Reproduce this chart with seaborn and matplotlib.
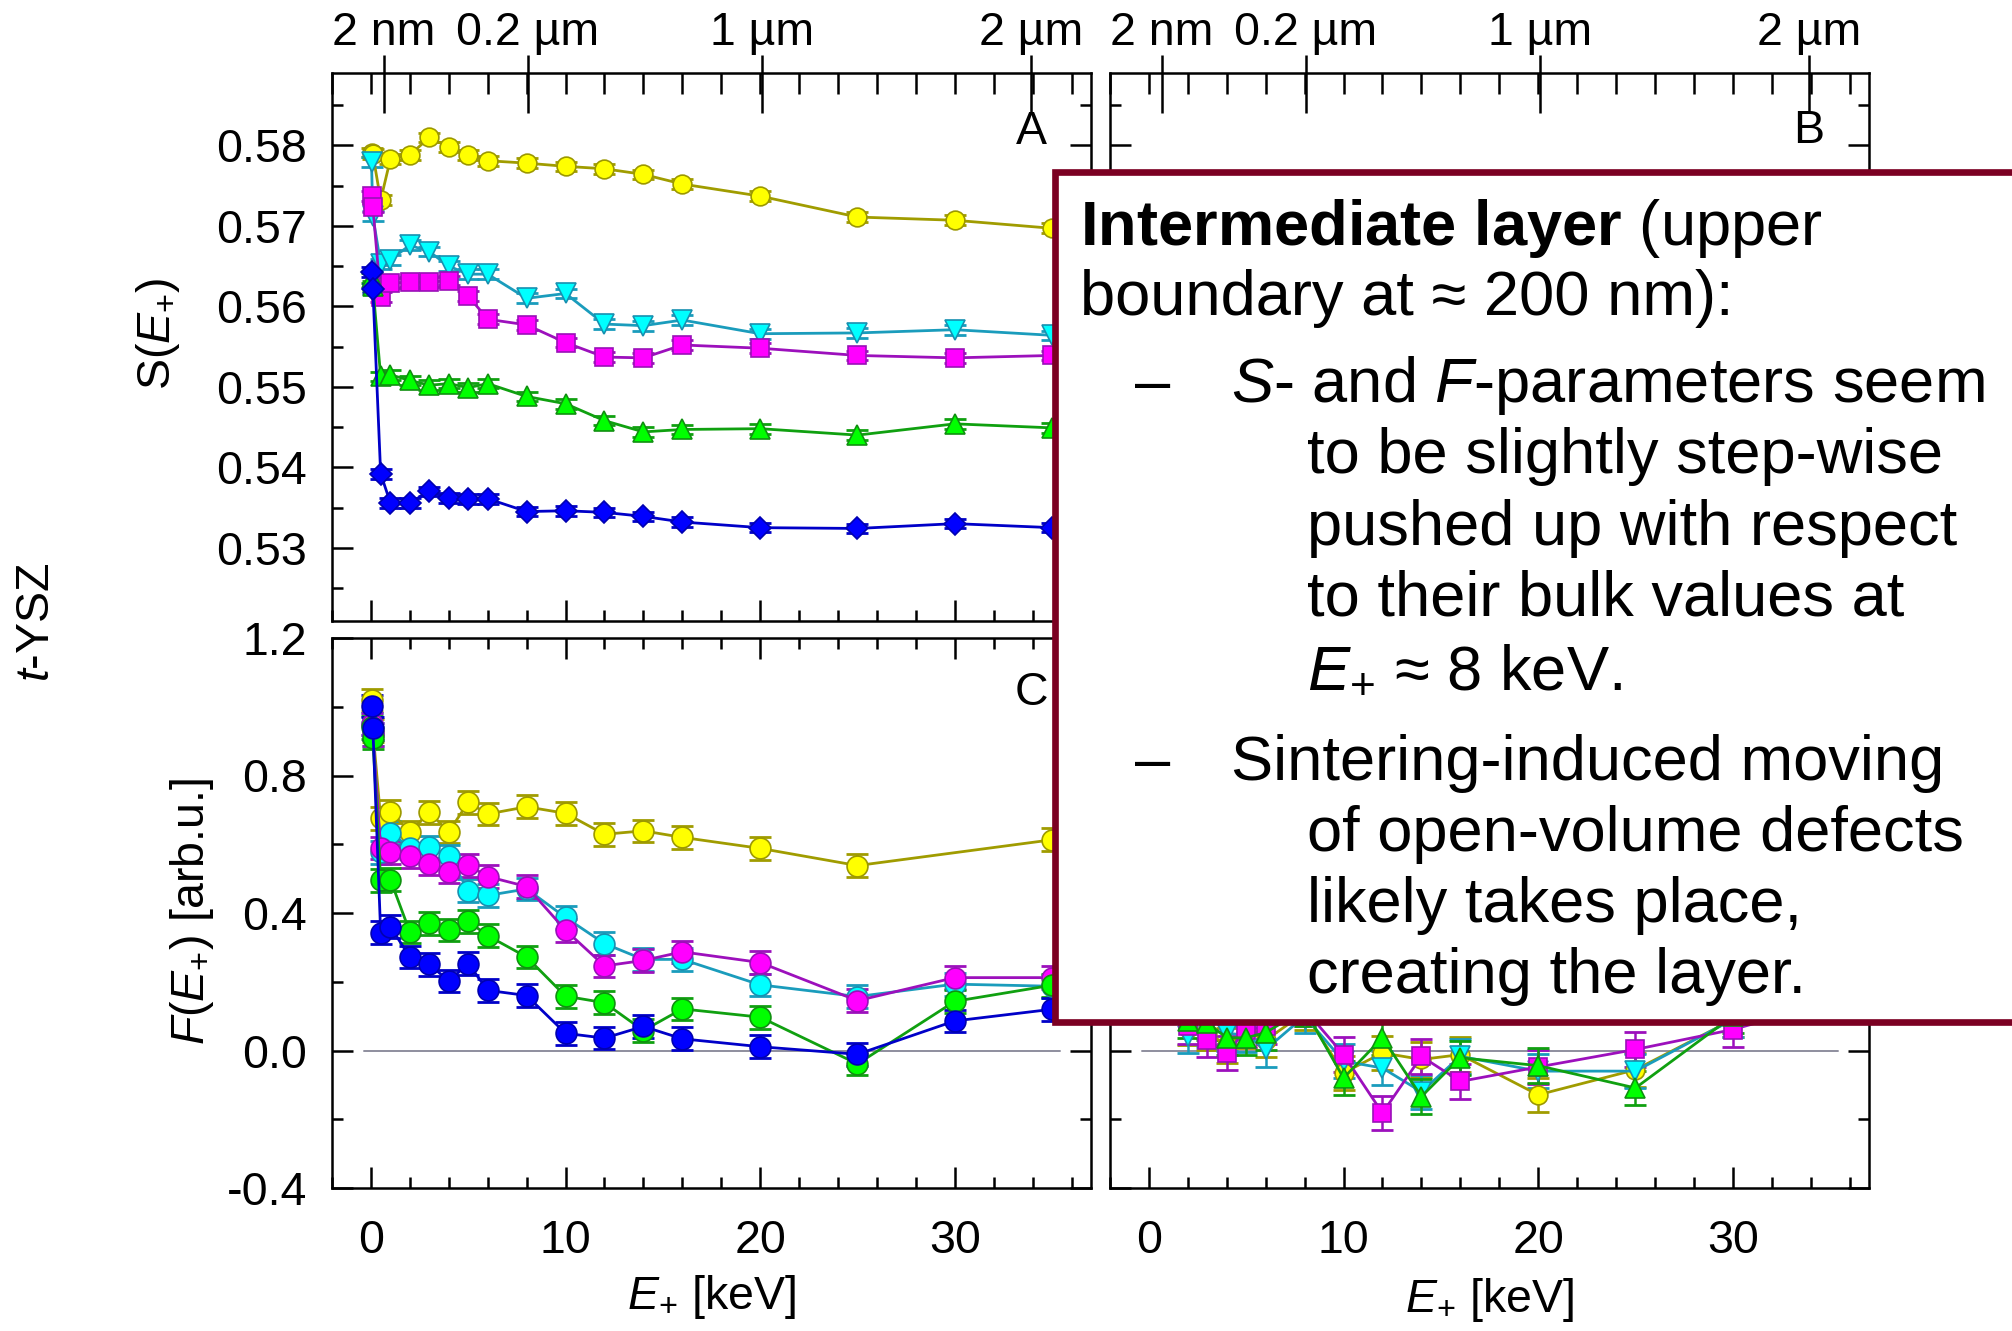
import numpy as np
import pandas as pd
import matplotlib
matplotlib.use("Agg")
import matplotlib.pyplot as plt
import seaborn as sns
from matplotlib.ticker import MultipleLocator, FixedLocator, FixedFormatter, FormatStrFormatter
from matplotlib.patches import Rectangle

# ------------------------------------------------------------------ data
E_KEV = [0.03, 0.1, 0.5, 1, 2, 3, 4, 5, 6, 8, 10, 12, 14, 16, 20, 25, 30, 35]

# panel A : S-parameter, left sample (5 series)
S_A_YELLOW = [0.5791, 0.5789, 0.5732, 0.5783, 0.5788, 0.5810, 0.5798, 0.5788, 0.5781,
              0.5778, 0.5774, 0.5771, 0.5764, 0.5752, 0.5737, 0.5711, 0.5707, 0.5697]
S_A_CYAN = [0.5779, 0.5712, 0.5653, 0.5658, 0.5676, 0.5668, 0.5650, 0.5640, 0.5640,
            0.5610, 0.5616, 0.5578, 0.5576, 0.5583, 0.5566, 0.5567, 0.5571, 0.5564]
S_A_MAGENTA = [0.5737, 0.5723, 0.5612, 0.5629, 0.5630, 0.5630, 0.5632, 0.5613, 0.5584,
               0.5577, 0.5555, 0.5537, 0.5536, 0.5552, 0.5548, 0.5539, 0.5536, 0.5539]
S_A_GREEN = [0.5635, 0.5625, 0.5513, 0.5515, 0.5508, 0.5502, 0.5504, 0.5499, 0.5504,
             0.5488, 0.5479, 0.5458, 0.5444, 0.5447, 0.5448, 0.5440, 0.5454, 0.5449]
S_A_BLUE = [0.5643, 0.5622, 0.5392, 0.5356, 0.5356, 0.5370, 0.5362, 0.5361, 0.5361,
            0.5345, 0.5346, 0.5344, 0.5339, 0.5332, 0.5325, 0.5324, 0.5330, 0.5325]

# panel C : F-parameter, left sample
F_C_YELLOW = [1.020, 0.930, 0.675, 0.695, 0.636, 0.693, 0.636, 0.722, 0.688,
              0.709, 0.690, 0.629, 0.639, 0.620, 0.588, 0.538, np.nan, 0.613]
F_C_CYAN = [0.950, 0.920, 0.577, 0.634, 0.590, 0.592, 0.566, 0.465, 0.451,
            0.470, 0.387, 0.311, 0.265, 0.265, 0.191, 0.157, 0.193, 0.187]
F_C_MAGENTA = [0.950, 0.920, 0.589, 0.577, 0.565, 0.544, 0.519, 0.539, 0.506,
               0.477, 0.350, 0.246, 0.262, 0.287, 0.256, 0.145, 0.212, 0.212]
F_C_GREEN = [0.940, 0.909, 0.495, 0.497, 0.345, 0.370, 0.351, 0.376, 0.334,
             0.272, 0.158, 0.139, 0.058, 0.121, 0.097, -0.039, 0.143, 0.190]
F_C_BLUE = [1.002, 0.937, 0.343, 0.360, 0.272, 0.251, 0.202, 0.253, 0.175,
            0.160, 0.050, 0.036, 0.070, 0.034, 0.011, -0.011, 0.086, 0.120]

# panel B : S-parameter, right sample (4 series, covered by the note box)
S_B_YELLOW = [0.5745, 0.5730, 0.5660, 0.5652, 0.5655, 0.5660, 0.5658, 0.5652, 0.5650,
              0.5640, 0.5632, 0.5625, 0.5620, 0.5615, 0.5605, 0.5598, 0.5596, 0.5594]
S_B_CYAN = [0.5740, 0.5722, 0.5640, 0.5636, 0.5640, 0.5642, 0.5638, 0.5633, 0.5630,
            0.5622, 0.5615, 0.5608, 0.5602, 0.5598, 0.5590, 0.5585, 0.5583, 0.5581]
S_B_MAGENTA = [0.5735, 0.5718, 0.5620, 0.5616, 0.5620, 0.5622, 0.5619, 0.5614, 0.5611,
               0.5603, 0.5596, 0.5590, 0.5585, 0.5580, 0.5572, 0.5568, 0.5566, 0.5565]
S_B_GREEN = [0.5730, 0.5710, 0.5600, 0.5596, 0.5599, 0.5601, 0.5598, 0.5593, 0.5590,
             0.5582, 0.5575, 0.5570, 0.5565, 0.5561, 0.5554, 0.5550, 0.5549, 0.5548]

# panel D : F-parameter, right sample
F_D_YELLOW = [1.000, 0.930, 0.480, 0.260, 0.066, 0.052, 0.015, 0.057, 0.030,
              0.110, -0.065, -0.007, -0.026, -0.012, -0.129, -0.056, 0.090, 0.150]
F_D_CYAN = [0.980, 0.920, 0.470, 0.250, 0.042, 0.060, 0.050, 0.045, 0.003,
            0.100, -0.031, -0.051, -0.120, -0.017, -0.060, -0.060, 0.090, 0.140]
F_D_MAGENTA = [0.990, 0.910, 0.460, 0.240, 0.070, 0.032, -0.007, 0.060, 0.070,
               0.120, -0.012, -0.182, -0.017, -0.090, -0.048, 0.003, 0.061, 0.140]
F_D_GREEN = [0.970, 0.900, 0.450, 0.230, 0.085, 0.080, 0.037, 0.037, 0.052,
             0.120, -0.080, 0.037, -0.134, -0.021, -0.044, -0.109, 0.100, 0.130]

S_ERR = 0.0006
F_ERR_LEFT = 0.033
F_ERR_RIGHT = 0.05

DEPTH_E = [0.65, 8.05, 20.1, 33.9]
DEPTH_LABELS = ["2 nm", "0.2 µm", "1 µm", "2 µm"]

NOTE_LINES = [
    r"$\mathbf{Intermediate\ layer}$ (upper",
    "boundary at ≈ 200 nm):",
    r"$S$- and $F$-parameters seem",
    "to be slightly step-wise",
    "pushed up with respect",
    "to their bulk values at",
    r"$E_{+}$ ≈ 8 keV.",
    "Sintering-induced moving",
    "of open-volume defects",
    "likely takes place,",
    "creating the layer.",
]

# ------------------------------------------------------------------ style
sns.set_style("ticks")
plt.rcParams["font.family"] = ["Liberation Sans", "DejaVu Sans"]
plt.rcParams["mathtext.fontset"] = "custom"
plt.rcParams["mathtext.rm"] = "Liberation Sans"
plt.rcParams["mathtext.it"] = "Liberation Sans:italic"
plt.rcParams["mathtext.bf"] = "Liberation Sans:bold"
plt.rcParams["mathtext.sf"] = "Liberation Sans"
plt.rcParams["axes.unicode_minus"] = False
plt.rcParams["text.color"] = "black"
plt.rcParams["axes.labelcolor"] = "black"
plt.rcParams["xtick.color"] = "black"
plt.rcParams["ytick.color"] = "black"
plt.rcParams["axes.edgecolor"] = "black"

STYLE = {
    "yellow": dict(face="#ffff00", edge="#9c9800", line="#a09c00", marker="o", ms=13.5),
    "cyan": dict(face="#00ffff", edge="#1890b0", line="#1a9cbc", marker="v", ms=15),
    "magenta": dict(face="#ff00ff", edge="#9a10b8", line="#9c10bc", marker="s", ms=12.5),
    "green": dict(face="#00ff00", edge="#109010", line="#10a010", marker="^", ms=15),
    "blue": dict(face="#0000ff", edge="#0000b0", line="#0000c8", marker="D", ms=11),
}

W, H = 2012, 1331
fig = plt.figure(figsize=(W / 100, H / 100), dpi=100)


def rect(l, t, r, b):
    return [l / W, 1 - b / H, (r - l) / W, (b - t) / H]


axA = fig.add_axes(rect(332, 73, 1091, 621))
axC = fig.add_axes(rect(332, 638, 1091, 1188))
axB = fig.add_axes(rect(1110, 73, 1869, 621))
axD = fig.add_axes(rect(1110, 638, 1869, 1188))

TICK_FS = 33.5


def draw_series(ax, series, err, circles=False):
    for name, vals in series:
        st = STYLE[name]
        df = pd.DataFrame({"E": E_KEV, "v": vals})
        ax.errorbar(df["E"], df["v"], yerr=err, fmt="none", ecolor=st["line"],
                    elinewidth=1.8, capsize=8, capthick=2.0, zorder=2)
        mk = "o" if circles else st["marker"]
        ms = 15 if circles else st["ms"]
        sns.lineplot(data=df, x="E", y="v", ax=ax, color=st["line"], lw=2.0,
                     marker=mk, markersize=ms, markerfacecolor=st["face"],
                     markeredgecolor=st["edge"], markeredgewidth=1.2,
                     estimator=None, legend=False, zorder=3)
    ax.set_xlabel("")
    ax.set_ylabel("")


draw_series(axA, [("yellow", S_A_YELLOW), ("cyan", S_A_CYAN), ("magenta", S_A_MAGENTA),
                  ("green", S_A_GREEN), ("blue", S_A_BLUE)], S_ERR)
draw_series(axC, [("yellow", F_C_YELLOW), ("cyan", F_C_CYAN), ("magenta", F_C_MAGENTA),
                  ("green", F_C_GREEN), ("blue", F_C_BLUE)], F_ERR_LEFT, circles=True)
draw_series(axB, [("yellow", S_B_YELLOW), ("cyan", S_B_CYAN), ("magenta", S_B_MAGENTA),
                  ("green", S_B_GREEN)], S_ERR)
draw_series(axD, [("yellow", F_D_YELLOW), ("cyan", F_D_CYAN), ("magenta", F_D_MAGENTA),
                  ("green", F_D_GREEN)], F_ERR_RIGHT)

for ax in (axC, axD):
    ax.plot([-0.35, 35.4], [0, 0], color="#8e8e9e", lw=1.4, zorder=1)

for ax in (axA, axB, axC, axD):
    ax.set_xlim(-2, 37)
    ax.xaxis.set_major_locator(MultipleLocator(10))
    ax.xaxis.set_minor_locator(MultipleLocator(2))
    for sp in ax.spines.values():
        sp.set_linewidth(1.8)
        sp.set_color("black")
        sp.set_visible(True)

for ax in (axA, axB):
    ax.set_ylim(0.5209, 0.5890)
    ax.yaxis.set_major_locator(MultipleLocator(0.01))
    ax.yaxis.set_minor_locator(MultipleLocator(0.005))
    ax.yaxis.set_major_formatter(FormatStrFormatter("%.2f"))
for ax in (axC, axD):
    ax.set_ylim(-0.4, 1.2)
    ax.yaxis.set_major_locator(MultipleLocator(0.4))
    ax.yaxis.set_minor_locator(MultipleLocator(0.2))
    ax.yaxis.set_major_formatter(FormatStrFormatter("%.1f"))

# depth scale on top of A and B
for ax in (axA, axB):
    t1 = ax.twiny()
    t1.set_xlim(-2, 37)
    t1.xaxis.set_major_locator(FixedLocator(DEPTH_E))
    t1.xaxis.set_major_formatter(FixedFormatter(DEPTH_LABELS))
    t1.xaxis.set_minor_locator(MultipleLocator(2))
    t1.xaxis.remove_overlapping_locs = False
    t1.tick_params(axis="x", which="major", direction="in", length=29, width=1.8,
                   labelsize=TICK_FS, pad=13, colors="black")
    t1.tick_params(axis="x", which="minor", direction="in", length=15, width=1.8, colors="black")
    for sp in t1.spines.values():
        sp.set_visible(False)
    t2 = ax.twiny()
    t2.set_xlim(-2, 37)
    t2.xaxis.set_major_locator(FixedLocator(DEPTH_E))
    t2.xaxis.set_minor_locator(FixedLocator([]))
    t2.tick_params(axis="x", which="major", direction="out", length=13, width=1.8,
                   labeltop=False, colors="black")
    for sp in t2.spines.values():
        sp.set_visible(False)

for ax, top, lab_b, lab_l in ((axA, False, False, True), (axB, False, False, False),
                              (axC, True, True, True), (axD, True, True, False)):
    ax.tick_params(which="both", direction="in", width=1.8, colors="black",
                   left=True, right=True, bottom=True, top=top,
                   labelbottom=lab_b, labelleft=lab_l, labelsize=TICK_FS)
    ax.tick_params(which="major", length=15)
    ax.tick_params(which="minor", length=8)
    ax.tick_params(axis="x", pad=22)
    ax.tick_params(axis="y", pad=18)

# panel letters
for ax, letter, y in ((axA, "A", 0.892), (axB, "B", 0.895), (axC, "C", 0.90), (axD, "D", 0.90)):
    ax.text(0.921, y, letter, transform=ax.transAxes, fontsize=TICK_FS,
            ha="center", va="center", zorder=5, color="black")

# axis labels
fig.text(157.5 / W, 1 - 334 / H, r"$\mathrm{S}(E_{+})$", fontsize=TICK_FS,
         rotation=90, ha="center", va="center", color="black")
fig.text(192 / W, 1 - 911 / H, r"$F(E_{+})$ [arb.u.]", fontsize=TICK_FS,
         rotation=90, ha="center", va="center", color="black")
fig.text(37 / W, 1 - 622 / H, r"$t$-YSZ", fontsize=TICK_FS,
         rotation=90, ha="center", va="center", color="black")
fig.text(711 / W, 1 - 1297 / H, r"$E_{+}$ [keV]", fontsize=TICK_FS,
         ha="center", va="center", color="black")
fig.text(1489 / W, 1 - 1300 / H, r"$E_{+}$ [keV]", fontsize=TICK_FS,
         ha="center", va="center", color="black")

# note box
box = Rectangle((1055 / W, 1 - 1021.7 / H), (2200 - 1055) / W, (1021.7 - 171.7) / H,
                transform=fig.transFigure, facecolor="white", edgecolor="#7b0022",
                linewidth=4.8, zorder=10, clip_on=False)
fig.add_artist(box)

NOTE_X = [1080, 1080, 1231, 1307, 1307, 1307, 1307, 1231, 1307, 1307, 1307]
NOTE_BASE = [245, 315, 402, 473, 545, 615, 686, 780, 851, 922, 993]
NOTE_FS = 45.5
for s, x, yb in zip(NOTE_LINES, NOTE_X, NOTE_BASE):
    fig.text(x / W, 1 - yb / H, s, fontsize=NOTE_FS, ha="left", va="baseline",
             zorder=11, color="black")
for yb in (402, 780):
    fig.text(1135 / W, 1 - yb / H, "–", fontsize=NOTE_FS, ha="left", va="baseline",
             zorder=11, color="black")

fig.savefig("out.png", dpi=100)
